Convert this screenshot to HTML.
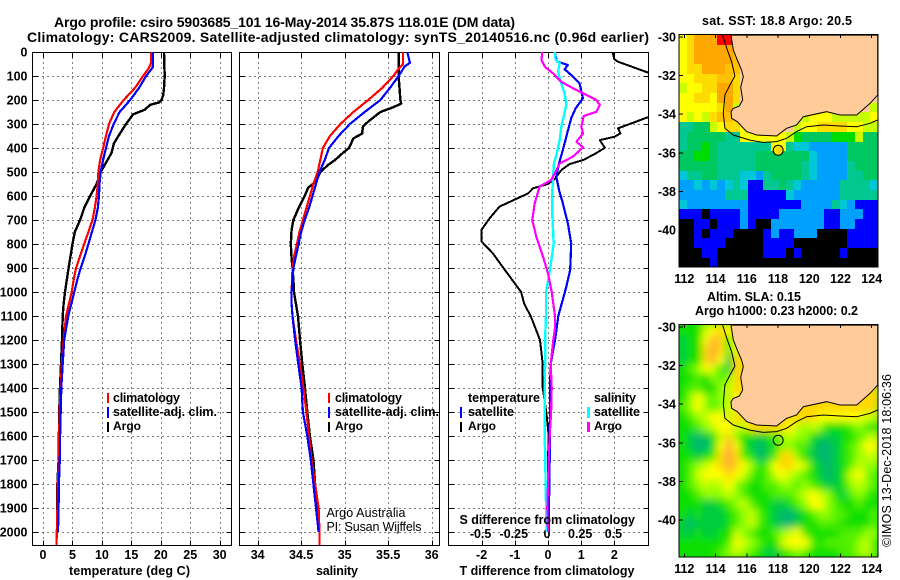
<!DOCTYPE html>
<html lang="en">
<head>
<meta charset="utf-8">
<title>Argo profile csiro 5903685_101</title>
<style>
html,body{margin:0;padding:0;background:#fff;}
svg{display:block;}
text{font-family:"Liberation Sans",sans-serif;fill:#000;}
.b{font-weight:bold;}
.line{fill:none;shape-rendering:crispEdges;stroke-linejoin:round;}
.crisp{shape-rendering:crispEdges;}
</style>
</head>
<body>
<svg id="chart" xmlns="http://www.w3.org/2000/svg" width="900" height="580" viewBox="0 0 900 580">
<defs>
<clipPath id="clip1"><rect x="32" y="52" width="200" height="494"/></clipPath>
<clipPath id="clip2"><rect x="239" y="52" width="201" height="494"/></clipPath>
<clipPath id="clip3"><rect x="448" y="52" width="201" height="494"/></clipPath>
<clipPath id="clipm0"><rect x="679" y="35" width="199" height="232"/></clipPath>
<clipPath id="clipm1"><rect x="679" y="325" width="199" height="232"/></clipPath>
<filter id="smooth"><feGaussianBlur stdDeviation="4"/></filter>
</defs>
<text class="b" x="54" y="27" font-size="14" textLength="461" lengthAdjust="spacing">Argo profile: csiro 5903685_101 16-May-2014 35.87S 118.01E (DM data)</text>
<text class="b" x="27" y="42" font-size="14" textLength="622" lengthAdjust="spacing">Climatology: CARS2009. Satellite-adjusted climatology: synTS_20140516.nc (0.96d earlier)</text>
<g id="panels"></g>
<g id="maps"></g>

<text class="b" x="69" y="575" font-size="12.5" textLength="121" lengthAdjust="spacing">temperature (deg C)</text>
<text class="b" x="316" y="575" font-size="12.5" textLength="42" lengthAdjust="spacing">salinity</text>
<text class="b" x="459.5" y="575" font-size="12.5" textLength="175" lengthAdjust="spacing">T difference from climatology</text>
<text class="b" x="459.5" y="524" font-size="12.5" textLength="175.5" lengthAdjust="spacing">S difference from climatology</text>

<g>
<rect x="107" y="393" width="2" height="10" fill="#ff0000"/>
<text class="b" x="113" y="402" font-size="12.5" textLength="67" lengthAdjust="spacing">climatology</text>
<rect x="107" y="407" width="2" height="11" fill="#0000ff"/>
<text class="b" x="113" y="416" font-size="12.5" textLength="104" lengthAdjust="spacing">satellite-adj. clim.</text>
<rect x="107" y="422" width="2" height="10" fill="#000"/>
<text class="b" x="113" y="430" font-size="12">Argo</text>
</g>
<g>
<rect x="328" y="393" width="2" height="10" fill="#ff0000"/>
<text class="b" x="335" y="402" font-size="12.5" textLength="67" lengthAdjust="spacing">climatology</text>
<rect x="328" y="407" width="2" height="11" fill="#0000ff"/>
<text class="b" x="335" y="416" font-size="12.5" textLength="104" lengthAdjust="spacing">satellite-adj. clim.</text>
<rect x="328" y="422" width="2" height="10" fill="#000"/>
<text class="b" x="335" y="430" font-size="12">Argo</text>
</g>
<g>
<text class="b" x="468" y="402" font-size="12.5" textLength="72" lengthAdjust="spacing">temperature</text>
<rect x="460" y="407" width="2" height="11" fill="#0000ff"/>
<text class="b" x="468" y="416" font-size="12.5" textLength="46" lengthAdjust="spacing">satellite</text>
<rect x="460" y="422" width="2" height="10" fill="#000"/>
<text class="b" x="468" y="430" font-size="12">Argo</text>
<text class="b" x="594" y="402" font-size="12.5" textLength="42" lengthAdjust="spacing">salinity</text>
<rect x="587" y="407" width="3" height="11" fill="#00ffff"/>
<text class="b" x="594" y="416" font-size="12.5" textLength="46" lengthAdjust="spacing">satellite</text>
<rect x="587" y="422" width="3" height="10" fill="#ff00ff"/>
<text class="b" x="594" y="430" font-size="12">Argo</text>
</g>
<text x="326.5" y="517" font-size="12.5" textLength="79" lengthAdjust="spacing">Argo Australia</text>
<text x="326.5" y="531" font-size="12.5" textLength="95" lengthAdjust="spacing">PI: Susan Wijffels</text>

<text class="b" x="702" y="25" font-size="12.5" textLength="150" lengthAdjust="spacing">sat. SST: 18.8 Argo: 20.5</text>
<text class="b" x="707" y="301" font-size="12.5" textLength="94" lengthAdjust="spacing">Altim. SLA: 0.15</text>
<text class="b" x="695" y="315" font-size="12.5" textLength="163" lengthAdjust="spacing">Argo h1000: 0.23 h2000: 0.2</text>
<text transform="translate(891,547) rotate(-90)" font-size="12.5" textLength="173" lengthAdjust="spacing">©IMOS 13-Dec-2018 18:06:36</text>
</svg>

<script>
// ---- profile data (depth in dbar) ----
const depthTicks = [0,100,200,300,400,500,600,700,800,900,1000,1100,1200,1300,1400,1500,1600,1700,1800,1900,2000];
const tempTicks = [0,5,10,15,20,25,30];
const salTicks = ["34","34.5","35","35.5","36"];
const tDiffTicks = ["-2","-1","0","1","2"];
const sDiffTicks = ["-0.5","-0.25","0","0.25","0.5"];

const tempArgoDepth = [0,50,100,150,180,200,210,220,240,260,300,350,380,420,470,500,550,600,650,700,750,800,900,1000,1050,1100,1200,1300,1400,1500,1600,1700,1800,1900,2000];
const tempArgo = [20.54,20.6,20.66,20.54,20.4,20.1,19.75,18.2,17.3,15.3,14.1,12.8,12.05,11.65,10.5,9.8,9.1,8,7,6.3,5.4,5,4.35,3.73,3.5,3.34,3.23,3.06,2.89,2.75,2.7,2.65,2.45,2.45,2.5];
const tempClimDepth = [0,50,70,100,150,200,250,300,350,400,450,500,550,600,650,700,750,800,850,900,950,1000,1050,1100,1200,1300,1400,1500,1600,1700,1800,1900,2000,2054];
const tempClim = [18.4,18.3,17.9,17,15.6,13.7,12.1,11.2,10.7,10.2,9.7,9.4,9.3,9.1,8.8,8.4,7.7,7,6.3,5.6,5.2,4.87,4.4,3.9,3.5,3.2,3,2.8,2.75,2.7,2.5,2.45,2.35,2.3];
const tempSatDepth = [0,50,65,100,150,200,250,300,350,400,450,500,550,600,650,700,750,800,850,900,950,1000,1050,1100,1200,1300,1400,1500,1600,1700,1800,1900,2000];
const tempSat = [18.7,18.7,18.6,17.5,16.3,14.8,13,12,11.2,10.7,10.2,9.8,9.6,9.5,9.3,8.9,8.3,7.7,7.1,6.4,5.8,5.3,4.8,4.3,3.6,3.35,3.1,3,2.9,2.85,2.7,2.65,2.55];

const salArgoDepth = [0,50,100,200,215,230,250,290,310,340,360,400,420,450,470,500,540,565,600,650,700,740,800,860,900,950,1000,1050,1100,1200,1300,1400,1500,1600,1700,1800,1900,2000];
const salArgo = [35.62,35.62,35.62,35.64,35.65,35.56,35.41,35.27,35.21,35.2,35.1,35.05,34.98,34.89,34.81,34.72,34.67,34.58,34.54,34.47,34.41,34.39,34.38,34.39,34.4,34.41,34.417,34.44,34.463,34.486,34.513,34.544,34.57,34.6,34.64,34.66,34.69,34.7];
const salClimDepth = [0,50,70,100,150,200,250,300,350,400,450,500,550,600,650,700,750,800,850,900,1000,1050,1100,1200,1300,1400,1500,1600,1700,1800,1900,2000,2054];
const salClim = [35.67,35.67,35.62,35.56,35.43,35.27,35.1,34.95,34.83,34.75,34.72,34.69,34.64,34.6,34.56,34.52,34.48,34.45,34.42,34.4,34.39,34.39,34.4,34.44,34.486,34.525,34.56,34.59,34.62,34.66,34.7,34.71,34.71];
const salSatDepth = [0,30,45,60,100,150,200,250,300,350,400,450,500,550,600,650,700,750,800,850,900,1000,1050,1100,1200,1300,1400,1500,1600,1700,1800,1900,2000];
const salSat = [35.72,35.74,35.75,35.69,35.62,35.52,35.41,35.23,35.06,34.93,34.82,34.77,34.71,34.67,34.63,34.59,34.54,34.5,34.47,34.44,34.41,34.39,34.39,34.4,34.43,34.467,34.505,34.52,34.57,34.61,34.64,34.67,34.7];

const dTArgoDepth = [0,30,40,60,85,100,150,200,250,272,295,318,339,353,367,399,425,450,467,492,530,550,568,589,644,693,742,790,839,887,1000,1047,1072,1100,1200,1300,1400,1500,1600,1700,1800,1900,2000];
const dTArgo = [1.94,2,2.1,2.5,3,3.6,5,6.4,3.9,3,2.56,2.11,2.18,2.01,1.56,1.71,1.41,1.06,0.65,0.4,0.2,0,-0.45,-0.6,-1.46,-1.76,-2.01,-2,-1.66,-1.41,-0.81,-0.72,-0.63,-0.52,-0.24,-0.16,-0.16,-0.05,0.02,0,0,0.02,0.03];
const dTSatDepth = [0,40,54,72,96,130,193,235,276,353,408,464,519,575,631,714,797,908,978,1000,1100,1172,1200,1300,1400,1500,1600,1700,1800,1900,2000];
const dTSat = [0.2,0.27,0.6,0.5,0.7,0.95,1.05,0.83,0.7,0.55,0.45,0.33,0.25,0.33,0.45,0.6,0.7,0.67,0.55,0.51,0.31,0.24,0.21,0.08,0.06,0.06,0.05,0.05,0.04,0.03,0.03];
const dSSatDepth = [0,33,47,82,131,172,221,269,311,367,429,464,519,575,686,797,908,1000,1100,1200,1300,1400,1500,1600,1700,1800,1900,2000];
const dSSat = [0.05,0.058,0.088,0.075,0.1,0.126,0.138,0.118,0.1,0.088,0.063,0.045,0.038,0.033,0.033,0.043,0.015,-0.015,-0.015,-0.022,-0.022,-0.024,-0.023,-0.025,-0.02,-0.018,-0.014,-0.008];
const dSArgoDepth = [0,33,61,89,124,151,172,200,221,249,267,311,339,374,397,436,464,492,533,561,631,700,769,853,922,1000,1100,1150,1200,1300,1400,1500,1600,1700,1800,1900,2000];
const dSArgo = [-0.043,-0.05,-0.025,0.038,0.1,0.188,0.264,0.364,0.39,0.364,0.269,0.251,0.264,0.214,0.264,0.188,0.088,0.063,0.025,-0.063,-0.1,-0.118,-0.088,-0.038,0,0.028,0.053,0.053,0.04,0.02,0.028,0.023,0.013,0.005,0,-0.005,0];

// ---- map data: rows of gridded classes, north to south ----
const latTicks = [-30,-32,-34,-36,-38,-40];
const lonTicks = [112,114,116,118,120,122,124];
const sstColours = {r:"#ff0000",o:"#ffa800",O:"#ffc000",y:"#ffdc00",Y:"#ffff00",l:"#c8ff00",g:"#00dc00",G:"#00c860",t:"#00c890",c:"#00c8d8",b:"#00a0ff",B:"#0000ff",k:"#000000",p:"#ffcc99"};
const slaColours = {a:"#00b870",b:"#00cc40",g:"#10e000",h:"#50f000",l:"#90ff00",m:"#c8ff00",y:"#ffff00",u:"#ffd800",o:"#ffa830",p:"#ffd800"};
const sstRows = [
"Yyooorrppppppppppppppppppp",
"YyoooooOpppppppppppppppppp",
"YyoooooOpppppppppppppppppp",
"YyyoooOOpppppppppppppppppp",
"YYyyyOOypppppppppppppppppp",
"lYYyyooypppppppppppppppppp",
"YYyyYooypppppppppppppppppp",
"YYYYYyolpppppppppppppppppl",
"YlYlyOOypppppppplYYYlllllY",
"ttGGlYyyYpppppplYYyyyyYYll",
"tGGGGGttYYYYYYlgGGGGggglGG",
"tGGgGtttttttYYtccbbbbbGGGG",
"GGggGtttttGGGGGGGcbbbbGGGG",
"GGGGGtttttGGGGGGtcbbbbtGGG",
"cttGGtttccbtGGGGtcbbbbttGG",
"bbcbcbctcBBttGtcbbbbbttttc",
"bbbbbbtttBBBBBcbbbbbbttttt",
"cbbbbbbbbBBBBBBBbbbbtcbBBB",
"BBBkBBBBbBBBBbbbbbbBBbbbBB",
"kkBBkBBBbBkkbbbbbbbBBbbBBB",
"kkBkBBBkkkkBbBBbbbkkkkBBBB",
"kkBBBBkkkkkBBBBkkkkkkkBBBB",
"kkkBBkkkkkkBBBkBkkkkkBkkkk",
"kkkkBkkkkkkkkkkkkkkkkkkkkk"
];
const slaRows = [
"gggmyuyppppppppppppppppppp",
"bggyouhypppppppppppppppppp",
"bgguouhypppppppppppppppppp",
"bgguoybupppppppppppppppppp",
"ghlymhbupppppppppppppppppp",
"gghglhlupppppppppppppppppp",
"ghhgglmupppppppppppppppppu",
"glylhlmypppppppppppppppppu",
"hlylhlmypppppppuuuuuuuuuuu",
"ghlmyymuupppppuuuuyyyyyymm",
"gghlmyymmuuuuuymlmlggghlhg",
"gbabgmulggbghlmllgbbbgghlm",
"gbaagyoygbabgllhhbaabghlyy",
"ggbghuouhgabhuulgbaabghlmm",
"ghlmyuouylghyuuymgbabghmll",
"ghmyyyuymhghmymlhgbabgmylh",
"ghlmlmylhgghhllhlhgbbglmlh",
"gghlllmlhggghhhlmymlgbhlhg",
"gggbbghlmhggbbghlyylhgghgg",
"gbgbbbghlmhgbaabghllhhgggh",
"babbbbghlmhgbaabgghhhggggh",
"bbgbbggmlhgghlmyhgggghhhll",
"gggggghymlhggmyyyhghhhhlmh",
"ggggghlmlhgbbghlhgggghhlmh"
];
const landLon = [114.99,115.14,115.39,115.67,115.78,115.61,115.74,115.52,115.14,114.99,115.03,115.39,115.99,116.63,117.91,118.55,119.19,119.62,121.11,121.97,123.04,123.89,124.38,124.38];
const landLat = [-29.9,-30.67,-31.19,-31.71,-32.05,-32.61,-33.26,-33.58,-33.7,-33.87,-34.21,-34.39,-34.9,-35.08,-35.13,-34.73,-34.56,-34.13,-33.87,-34.04,-34.04,-33.44,-33,-29.9];
const contourLon = [114.45,114.75,115.03,115.24,114.92,114.6,114.5,114.6,115.14,116.2,117.06,117.91,118.55,119.19,119.83,120.9,121.97,123.04,123.89,124.38];
const contourLat = [-29.9,-30.67,-31.28,-32.02,-32.49,-33,-33.96,-34.73,-35.08,-35.34,-35.46,-35.42,-35.25,-34.9,-34.65,-34.56,-34.61,-34.65,-34.47,-34.3];
const profileLon = 118.01;
const profileLat = -35.87;

// ---- axis functions ----
const NS = "http://www.w3.org/2000/svg";
const yDepth = d => 52 + 0.24 * d;
const xTemp = t => 43 + 5.89 * t;
const xSal = s => 257.7 + 87 * (s - 34);
const xDT = t => 548 + 33.2 * t;
const xDS = s => 548 + 132.8 * s;
const xLon = lon => 684.3 + 15.62 * (lon - 112);
const yLat = (lat, off) => off + 37 + 19.3 * (-30 - lat);

function mk(parent, tag, attrs, txt) {
  const el = document.createElementNS(NS, tag);
  for (const k in attrs) el.setAttribute(k, attrs[k]);
  if (txt !== undefined) el.textContent = txt;
  parent.appendChild(el);
  return el;
}

const panelsG = document.getElementById("panels");
const mapsG = document.getElementById("maps");

const panels = [
  {L:32.5, R:231.5, clip:"clip1", xs:tempTicks.map(xTemp), labels:tempTicks.map(String), depthLabels:true},
  {L:239.5, R:439.5, clip:"clip2", xs:salTicks.map(s => xSal(+s)), labels:salTicks, depthLabels:false},
  {L:448.5, R:648.5, clip:"clip3", xs:tDiffTicks.map(s => xDT(+s)), labels:tDiffTicks, depthLabels:false}
];
const TOP = 52.5, BOT = 545.5;

panels.forEach(p => {
  depthTicks.forEach(d => {
    const y = Math.round(yDepth(d)) + 0.5;
    const grid = mk(panelsG, "line", {x1:p.L, x2:p.R, y1:y, y2:y, stroke:"#000", "stroke-width":1, "stroke-dasharray":"1 4", class:"crisp"});
    
    
    const tl = mk(panelsG, "line", {x1:p.L, x2:p.L + 5, y1:y, y2:y, stroke:"#000", class:"crisp"});
    
    
    const tr = mk(panelsG, "line", {x1:p.R - 5, x2:p.R, y1:y, y2:y, stroke:"#000", class:"crisp"});
    
    
    if (p.depthLabels) {
      const lab = mk(panelsG, "text", {x:27.5, y:yDepth(d) + 4.5, "text-anchor":"end", "font-size":12.5, class:"b"}, String(d));
      
      
    }
  });
  p.xs.forEach((x0, i) => {
    const x = Math.round(x0) + 0.5;
    const grid = mk(panelsG, "line", {x1:x, x2:x, y1:TOP, y2:BOT, stroke:"#000", "stroke-width":1, "stroke-dasharray":"1 4", class:"crisp"});
    
    
    const t1 = mk(panelsG, "line", {x1:x, x2:x, y1:TOP, y2:TOP + 5, stroke:"#000", class:"crisp"});
    
    
    const t2 = mk(panelsG, "line", {x1:x, x2:x, y1:BOT - 5, y2:BOT, stroke:"#000", class:"crisp"});
    
    
    const lab = mk(panelsG, "text", {x:x0, y:559, "text-anchor":"middle", "font-size":12.5, class:"b"}, p.labels[i]);
    
    
  });
  const frame = mk(panelsG, "rect", {x:p.L, y:TOP, width:p.R - p.L, height:BOT - TOP, fill:"none", stroke:"#000", class:"crisp"});
  
  
});

sDiffTicks.forEach(s => {
  const lab = mk(panelsG, "text", {x:xDS(+s) - 1, y:538, "text-anchor":"middle", "font-size":12.5, class:"b"}, s);
  
  
});

function linePoints(depths, vals, xFn) {
  return depths.map((d, i) => xFn(vals[i]).toFixed(1) + "," + yDepth(d).toFixed(1)).join(" ");
}

let s;
s = mk(panelsG, "polyline", {points:linePoints(tempArgoDepth, tempArgo, xTemp), stroke:"#000", "stroke-width":2.4, class:"line", "clip-path":"url(#clip1)"});


s = mk(panelsG, "polyline", {points:linePoints(tempClimDepth, tempClim, xTemp), stroke:"#ff0000", "stroke-width":2.2, class:"line", "clip-path":"url(#clip1)"});


s = mk(panelsG, "polyline", {points:linePoints(tempSatDepth, tempSat, xTemp), stroke:"#0000ff", "stroke-width":2.2, class:"line", "clip-path":"url(#clip1)"});



s = mk(panelsG, "polyline", {points:linePoints(salArgoDepth, salArgo, xSal), stroke:"#000", "stroke-width":2.4, class:"line", "clip-path":"url(#clip2)"});


s = mk(panelsG, "polyline", {points:linePoints(salClimDepth, salClim, xSal), stroke:"#ff0000", "stroke-width":2.2, class:"line", "clip-path":"url(#clip2)"});


s = mk(panelsG, "polyline", {points:linePoints(salSatDepth, salSat, xSal), stroke:"#0000ff", "stroke-width":2.2, class:"line", "clip-path":"url(#clip2)"});



s = mk(panelsG, "polyline", {points:linePoints(dTArgoDepth, dTArgo, xDT), stroke:"#000", "stroke-width":2, class:"line", "clip-path":"url(#clip3)"});


s = mk(panelsG, "polyline", {points:linePoints(dTSatDepth, dTSat, xDT), stroke:"#0000ff", "stroke-width":2.2, class:"line", "clip-path":"url(#clip3)"});


s = mk(panelsG, "polyline", {points:linePoints(dSSatDepth, dSSat, xDS), stroke:"#00ffff", "stroke-width":2.4, class:"line", "clip-path":"url(#clip3)"});


s = mk(panelsG, "polyline", {points:linePoints(dSArgoDepth, dSArgo, xDS), stroke:"#ff00ff", "stroke-width":2.2, class:"line", "clip-path":"url(#clip3)"});



// ---- maps ----
function drawMap(rows, colours, off, clipId, markerFill, name, smooth) {
  const g = mk(mapsG, "g", {"clip-path":"url(#" + clipId + ")"});
  
  
  const cellsG = mk(g, "g", smooth ? {filter:"url(#smooth)"} : {});
  
  
  const left = 679, top = off + 35, w = 199, h = 232.4;
  const nRows = rows.length, nCols = rows[0].length;
  if (smooth) {
    const backing = mk(cellsG, "rect", {x:left - 20, y:top - 20, width:w + 40, height:h + 40, fill:colours.g});
    
    
  }
  rows.forEach((row, r) => {
    const y0 = Math.round(top + h * r / nRows), y1 = Math.round(top + h * (r + 1) / nRows);
    for (let c = 0; c < nCols; c++) {
      const x0 = Math.round(left + w * c / nCols), x1 = Math.round(left + w * (c + 1) / nCols);
      const cell = mk(cellsG, "rect", {x:x0, y:y0, width:x1 - x0, height:y1 - y0, fill:colours[row[c]], class:"crisp"});
      
      
    }
  });
  const landPts = landLon.map((lon, i) => xLon(lon).toFixed(1) + "," + yLat(landLat[i], off).toFixed(1)).join(" ");
  const land = mk(g, "polygon", {points:landPts, fill:"#ffcc99", stroke:"#000", "stroke-width":1});
  
  
  const contourPts = contourLon.map((lon, i) => xLon(lon).toFixed(1) + "," + yLat(contourLat[i], off).toFixed(1)).join(" ");
  const contour = mk(g, "polyline", {points:contourPts, fill:"none", stroke:"#000", "stroke-width":1});
  
  
  const marker = mk(g, "circle", {cx:xLon(profileLon), cy:yLat(profileLat, off), r:5, fill:markerFill, stroke:"#000", "stroke-width":1});
  
  

  const frame = mk(mapsG, "rect", {x:679, y:top - 0.5, width:199, height:h, fill:"none", stroke:"#000", class:"crisp"});
  
  

  latTicks.forEach(lat => {
    const y = yLat(lat, off);
    const t = mk(mapsG, "line", {x1:679, x2:683, y1:y, y2:y, stroke:"#000", class:"crisp"});
    
    
    const lab = mk(mapsG, "text", {x:676, y:y + 4.5, "text-anchor":"end", "font-size":12.5, class:"b"}, String(lat));
    
    
  });
  lonTicks.forEach(lon => {
    const x = xLon(lon);
    const t1 = mk(mapsG, "line", {x1:x, x2:x, y1:top - 0.5, y2:top + 3, stroke:"#000", class:"crisp"});
    
    
    const t2 = mk(mapsG, "line", {x1:x, x2:x, y1:top + h - 4, y2:top + h, stroke:"#000", class:"crisp"});
    
    
    const lab = mk(mapsG, "text", {x:x, y:off + 283, "text-anchor":"middle", "font-size":12.5, class:"b"}, String(lon));
    
    
  });
}
drawMap(sstRows, sstColours, 0, "clipm0", "#ffd800", "sst-map", false);
drawMap(slaRows, slaColours, 290, "clipm1", "none", "sla-map", true);
</script>
</body>
</html>
